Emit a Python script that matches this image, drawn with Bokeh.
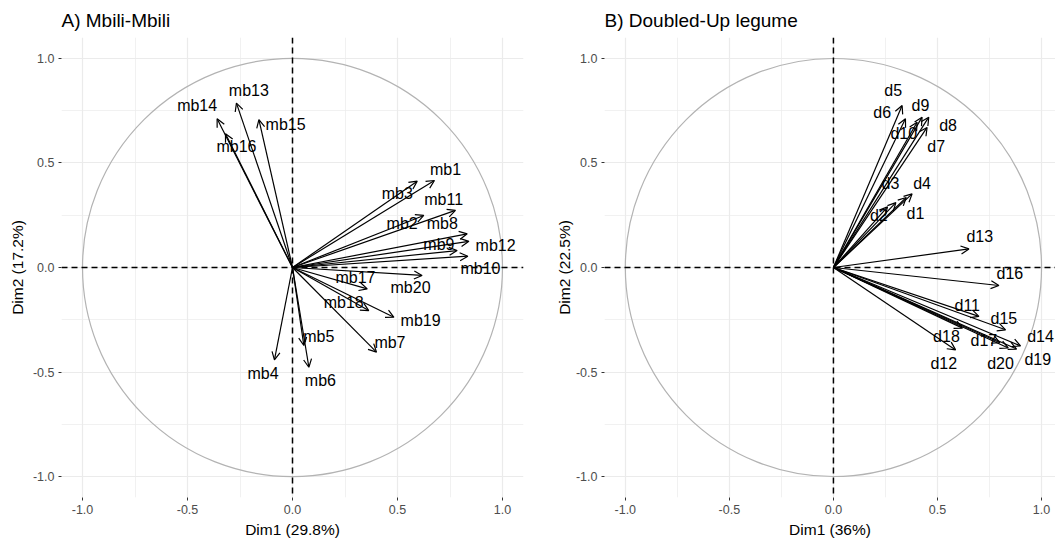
from bokeh.plotting import figure
from bokeh.layouts import row
from bokeh.models import ColumnDataSource, Arrow, OpenHead, Span, FixedTicker, NumeralTickFormatter
from bokeh.embed import file_html
from bokeh.resources import INLINE
from bokeh.core.properties import value

# ---------------- data ----------------
tick_values = [-1.0, -0.5, 0.0, 0.5, 1.0]
minor_values = [-0.75, -0.25, 0.25, 0.75]

mb_names = ["mb1", "mb2", "mb3", "mb4", "mb5", "mb6", "mb7", "mb8", "mb9", "mb10",
            "mb11", "mb12", "mb13", "mb14", "mb15", "mb16", "mb17", "mb18", "mb19", "mb20"]
mb_dim1 = [0.676, 0.625, 0.594, -0.086, 0.054, 0.078, 0.400, 0.832, 0.784, 0.835,
           0.776, 0.840, -0.267, -0.359, -0.160, -0.319, 0.356, 0.363, 0.483, 0.617]
mb_dim2 = [0.416, 0.249, 0.413, -0.442, -0.373, -0.477, -0.405, 0.161, 0.081, 0.054,
           0.273, 0.125, 0.786, 0.711, 0.707, 0.640, -0.102, -0.206, -0.238, -0.038]
mb_label_dim1 = [0.729, 0.522, 0.499, -0.140, 0.125, 0.133, 0.464, 0.713, 0.697, 0.895,
                 0.720, 0.967, -0.208, -0.454, -0.033, -0.267, 0.300, 0.244, 0.610, 0.562]
mb_label_dim2 = [0.467, 0.212, 0.352, -0.508, -0.330, -0.541, -0.357, 0.212, 0.109, -0.003,
                 0.324, 0.104, 0.847, 0.775, 0.684, 0.579, -0.049, -0.166, -0.254, -0.097]

d_names = ["d1", "d2", "d3", "d4", "d5", "d6", "d7", "d8", "d9", "d10",
           "d11", "d12", "d13", "d14", "d15", "d16", "d17", "d18", "d19", "d20"]
d_dim1 = [0.350, 0.260, 0.300, 0.378, 0.330, 0.346, 0.450, 0.458, 0.426, 0.402,
          0.699, 0.587, 0.651, 0.899, 0.827, 0.795, 0.800, 0.620, 0.880, 0.840]
d_dim2 = [0.335, 0.290, 0.310, 0.352, 0.775, 0.711, 0.670, 0.719, 0.719, 0.695,
          -0.234, -0.394, 0.089, -0.375, -0.298, -0.086, -0.360, -0.290, -0.390, -0.385]
d_label_dim1 = [0.394, 0.218, 0.274, 0.426, 0.287, 0.234, 0.494, 0.551, 0.418, 0.338,
                0.643, 0.530, 0.703, 0.995, 0.819, 0.848, 0.723, 0.543, 0.982, 0.803]
d_label_dim2 = [0.257, 0.249, 0.400, 0.400, 0.847, 0.743, 0.579, 0.679, 0.775, 0.640,
                -0.182, -0.458, 0.148, -0.330, -0.245, -0.030, -0.349, -0.329, -0.442, -0.461]

FONT = "Liberation Sans"


def make_panel(title, xlab, ylab, names, dx, dy, lx, ly, x_end, width, mb_left, mb_right, ylab_standoff):
    p = figure(width=width, height=540, x_range=(-1.1, x_end), y_range=(-1.1, 1.1),
               output_backend="svg", toolbar_location=None,
               min_border_left=mb_left, min_border_right=mb_right,
               min_border_top=37, min_border_bottom=43)
    p.outline_line_color = None
    p.background_fill_color = "white"
    p.border_fill_color = "white"

    p.title.text = title
    p.title.text_font = FONT
    p.title.text_font_size = "19px"
    p.title.text_font_style = "normal"
    p.title.align = "left"
    p.title.text_color = "black"
    p.title.standoff = 13

    for ax in (p.xaxis, p.yaxis):
        ax.ticker = FixedTicker(ticks=tick_values, minor_ticks=minor_values)
        ax.formatter = NumeralTickFormatter(format="0.0")
        ax.axis_line_color = None
        ax.major_tick_line_color = "#333333"
        ax.major_tick_in = 0
        ax.major_tick_out = 3
        ax.minor_tick_line_color = None
        ax.major_label_text_font = FONT
        ax.major_label_text_font_size = "12.5px"
        ax.major_label_text_color = "#4D4D4D"
        ax.major_label_standoff = 3
        ax.axis_label_text_font = FONT
        ax.axis_label_text_font_size = "15.5px"
        ax.axis_label_text_font_style = "normal"
        ax.axis_label_text_color = "black"
        ax.axis_label_standoff = 4
    p.yaxis.axis_label_standoff = ylab_standoff
    p.xaxis.axis_label = xlab
    p.yaxis.axis_label = ylab

    p.grid.grid_line_color = "#EBEBEB"
    p.grid.grid_line_width = 1.2
    p.grid.minor_grid_line_color = "#EBEBEB"
    p.grid.minor_grid_line_width = 0.7

    p.ellipse(x=0, y=0, width=2, height=2, fill_color=None, line_color="#B3B3B3", line_width=1.2)

    p.add_layout(Span(location=0, dimension="width", line_color="black", line_dash="6 4", line_width=1.5))
    p.add_layout(Span(location=0, dimension="height", line_color="black", line_dash="6 4", line_width=1.5))

    src = ColumnDataSource(dict(x0=[0.0] * len(names), y0=[0.0] * len(names),
                                x1=dx, y1=dy, lx=lx, ly=ly, name=names))
    p.add_layout(Arrow(end=OpenHead(size=8, line_width=1.2, line_color="black"),
                       x_start="x0", y_start="y0", x_end="x1", y_end="y1",
                       source=src, line_width=1.2, line_color="black"))
    p.text(x="lx", y="ly", text="name", source=src, text_align="center", text_baseline="middle",
           text_font=value(FONT), text_font_size="16px", text_color="black")
    return p


p1 = make_panel("A) Mbili-Mbili", "Dim1 (29.8%)", "Dim2 (17.2%)",
                mb_names, mb_dim1, mb_dim2, mb_label_dim1, mb_label_dim2,
                1.1, 527, 61, 4, 4)
p2 = make_panel("B) Doubled-Up legume", "Dim1 (36%)", "Dim2 (22.5%)",
                d_names, d_dim1, d_dim2, d_label_dim1, d_label_dim2,
                1.067, 528, 77, 0, 0)

layout = row(p1, p2)
open("out.html", "w").write(file_html(layout, INLINE))
